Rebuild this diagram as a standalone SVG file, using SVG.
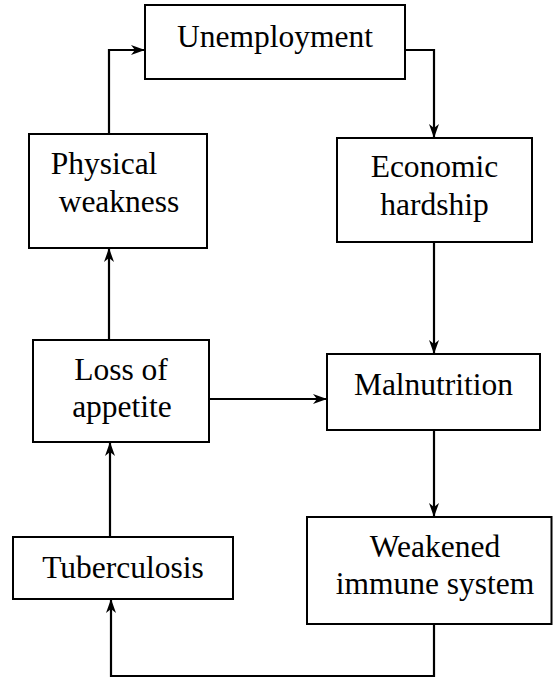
<svg xmlns="http://www.w3.org/2000/svg" width="553" height="679" viewBox="0 0 553 679">
<defs>
<marker id="ah" markerUnits="userSpaceOnUse" markerWidth="15" markerHeight="11" refX="14" refY="5.5" orient="auto">
<path d="M0,0.5 L14,5.5 L0,10.5 L4,5.5 z" fill="#000"/>
</marker>
<style>
.box{fill:#fff;stroke:#000;stroke-width:2}
.lbl{font-size:31.5px;fill:#000;text-anchor:middle}
.c{fill:none;stroke:#000;stroke-width:2.2;marker-end:url(#ah)}
</style>
</defs>
<rect width="553" height="679" fill="#fff"/>
<g id="connectors">
<path class="c" d="M109,134 V50 H145"/>
<path class="c" d="M405,50 H434 V138"/>
<path class="c" d="M434,242 V354"/>
<path class="c" d="M109,340 V248"/>
<path class="c" d="M209,399 H327"/>
<path class="c" d="M434,430 V517"/>
<path class="c" d="M434,624 V676 H111 V599"/>
<path class="c" d="M110,537 V442"/>
</g>
<g font-family="Liberation Serif, Times New Roman, serif">
<g id="unemployment">
<rect class="box" x="145" y="5" width="260" height="74"/>
<text class="lbl" x="275" y="47">Unemployment</text>
</g>
<g id="economic-hardship">
<rect class="box" x="337" y="138" width="195" height="104"/>
<text class="lbl" x="434.5" y="177">Economic</text>
<text class="lbl" x="434.5" y="215">hardship</text>
</g>
<g id="physical-weakness">
<rect class="box" x="29" y="134" width="178" height="114"/>
<text class="lbl" x="104" y="174">Physical</text>
<text class="lbl" x="119" y="212">weakness</text>
</g>
<g id="loss-of-appetite">
<rect class="box" x="33" y="340" width="176" height="102"/>
<text class="lbl" x="121" y="380">Loss of</text>
<text class="lbl" x="122" y="417">appetite</text>
</g>
<g id="malnutrition">
<rect class="box" x="327" y="354" width="213" height="76"/>
<text class="lbl" x="433.5" y="395">Malnutrition</text>
</g>
<g id="tuberculosis">
<rect class="box" x="13" y="537" width="220" height="62"/>
<text class="lbl" x="123" y="578">Tuberculosis</text>
</g>
<g id="weakened-immune-system">
<rect class="box" x="307" y="517" width="244.5" height="107"/>
<text class="lbl" x="435" y="557">Weakened</text>
<text class="lbl" x="435" y="594">immune system</text>
</g>
</g>
</svg>
